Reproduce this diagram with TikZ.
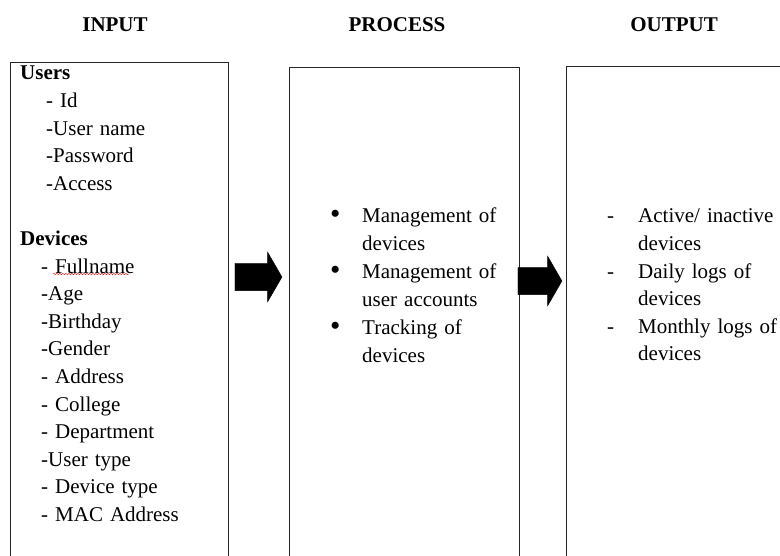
\documentclass[tikz,border=0pt]{standalone}
\usepackage{fontspec}
\setmainfont{Liberation Serif}
\usetikzlibrary{positioning}
\usetikzlibrary{shapes.arrows}
\usetikzlibrary{decorations.pathmorphing}
\tikzset{
	title/.style={
		font=\fontsize{21}{27.6}\selectfont\bfseries,
		anchor=base,
		inner sep=0pt},
	panel/.style={
		rectangle,
		draw=black!85, line width=1pt,
		anchor=north west,
		inner sep=0pt,
		minimum height=520pt},
	entries/.style={
		font=\fontsize{21}{27.6}\selectfont,
		anchor=base west,
		inner sep=0pt,
		text width=200pt,
		align=left},
	bigarrow/.style={
		single arrow,
		fill=black, draw=black,
		inner xsep=0pt, inner ysep=13.5pt,
		minimum height=47pt,
		single arrow head extend=11pt,
		single arrow tip angle=120},
	squiggle/.style={draw=red, thin, decorate, decoration={snake, amplitude=0.7pt, segment length=3pt}},
}
\newcommand{\lead}[1]{\makebox[31pt][l]{#1}}
\newcommand{\bigdot}{\lead{\hspace*{-1pt}\raisebox{-1pt}{\scalebox{1.4}{\textbullet}}}}

\begin{document}
\begin{tikzpicture}
	[x=1pt, y=-1pt]
	\useasboundingbox (0,0) rectangle (780,556);
	% column headings
	\node[title] (tin) at (115,32) {INPUT};
	\node[title] (tproc) at (397,32) {PROCESS};
	\node[title] (tout) at (674,32) {OUTPUT};
	% the three panels
	\node[panel, minimum width=218pt] (inbox) at (10,62) {};
	\node[panel, minimum width=230pt] (procbox) at (289,67) {};
	\node[panel, minimum width=240pt] (outbox) at (566,66) {};
	% input
	\node[entries] (inlist) at (20,80) {\textbf{Users}\\
		\hspace*{26pt}- Id\\
		\hspace*{26pt}-User name\\
		\hspace*{26pt}-Password\\
		\hspace*{26pt}-Access\\
		\mbox{}\\
		\textbf{Devices}\\
		\hspace*{21pt}- Fullname\\
		\hspace*{21pt}-Age\\
		\hspace*{21pt}-Birthday\\
		\hspace*{21pt}-Gender\\
		\hspace*{21pt}- Address\\
		\hspace*{21pt}- College\\
		\hspace*{21pt}- Department\\
		\hspace*{21pt}-User type\\
		\hspace*{21pt}- Device type\\
		\hspace*{21pt}- MAC Address};
	\draw[squiggle] (53,274) -- (129,274);
	% process
	\node[entries, font=\fontsize{21}{28}\selectfont] (proclist) at (331,223) {\bigdot Management of\\
		\lead{}devices\\
		\bigdot Management of\\
		\lead{}user accounts\\
		\bigdot Tracking of\\
		\lead{}devices};
	% output
	\node[entries] (outlist) at (607,223) {\lead{-}Active/ inactive\\
		\lead{}devices\\
		\lead{-}Daily logs of\\
		\lead{}devices\\
		\lead{-}Monthly logs of\\
		\lead{}devices};
	% block arrows
	\node[bigarrow] (arrA) at (254.5,277) {};
	\node[bigarrow, minimum height=44pt] (arrB) at (536,281) {};
\end{tikzpicture}
\end{document}
